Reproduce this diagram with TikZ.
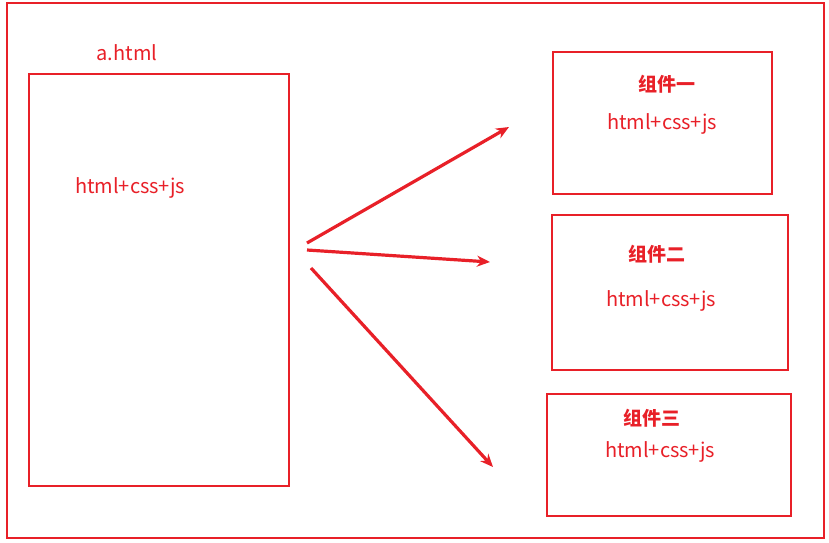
\documentclass[tikz,border=0pt]{standalone}
\usepackage{fontspec}
\setmainfont{Noto Sans CJK SC}
\usetikzlibrary{arrows.meta}
\definecolor{rd}{RGB}{232,32,40}
\tikzset{box/.style={draw=rd,line width=2.6pt},
 lab/.style={text=rd,font=\fontsize{20}{23}\selectfont},
 ttl/.style={text=rd,font=\fontsize{19}{22}\selectfont\bfseries},
 arr/.style={draw=rd,line width=3.2pt,-{Stealth[length=13pt,width=11pt]}}}
\begin{document}
\begin{tikzpicture}[x=1pt,y=-1pt]
\useasboundingbox (0,0) rectangle (829,542);
\draw[box] (7,3) rectangle (824,538);
\draw[box] (29,74) rectangle (289,486);
\node[lab] (ah) at (127,53) {a.html};
\node[lab] (lt) at (130,188) {html+css+js};
\draw[box] (553,52) rectangle (772,194);
\node[ttl] (t1) at (667,84) {组件一};
\node[lab] (h1) at (662,124) {html+css+js};
\draw[box] (552,215) rectangle (788,370);
\node[ttl] (t2) at (657,254) {组件二};
\node[lab] (h2) at (661,301) {html+css+js};
\draw[box] (547,394) rectangle (791,516);
\node[ttl] (t3) at (652,418) {组件三};
\node[lab] (h3) at (660,452) {html+css+js};
\coordinate (s1) at (307,243); \coordinate (e1) at (509,127);
\coordinate (s2) at (307,250); \coordinate (e2) at (490,262);
\coordinate (s3) at (311,268); \coordinate (e3) at (493,467);
\draw[arr] (s1) -- (e1);
\draw[arr] (s2) -- (e2);
\draw[arr] (s3) -- (e3);
\end{tikzpicture}
\end{document}
